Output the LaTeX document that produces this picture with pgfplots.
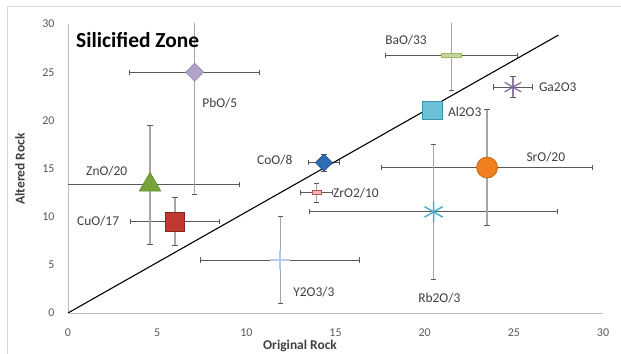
\documentclass[border=0pt]{standalone}
\usepackage{pgfplots}
\pgfplotsset{compat=1.18}
\usepackage{pgfplotstable}
\usepackage{fontspec}
\setmainfont{Carlito}

\definecolor{framegray}{HTML}{D9D9D9}
\definecolor{axisgray}{HTML}{BFBFBF}
\definecolor{ticktext}{HTML}{595959}
\definecolor{labeltext}{HTML}{404040}
\definecolor{barx}{HTML}{595959}
\definecolor{bary}{HTML}{A6A6A6}
\definecolor{pbofill}{HTML}{B3A2C7}\definecolor{pbodraw}{HTML}{9482B4}
\definecolor{znofill}{HTML}{77A33B}\definecolor{znodraw}{HTML}{5F8A2E}
\definecolor{cuofill}{HTML}{C0392F}\definecolor{cuodraw}{HTML}{8B2520}
\definecolor{coofill}{HTML}{2F6CB5}\definecolor{coodraw}{HTML}{1E4F8A}
\definecolor{zrofill}{HTML}{F2B8B8}\definecolor{zrodraw}{HTML}{C0504D}
\definecolor{yoline}{HTML}{B7CBE8}
\definecolor{rboline}{HTML}{4BACC6}
\definecolor{srofill}{HTML}{F07F1E}\definecolor{srodraw}{HTML}{C05A05}
\definecolor{alofill}{HTML}{6EC0D8}\definecolor{alodraw}{HTML}{3A93AD}
\definecolor{baofill}{HTML}{C3D69B}\definecolor{baodraw}{HTML}{9BBB59}
\definecolor{gaoline}{HTML}{8064A2}

% oxide means (original, altered) with their spreads
\pgfplotstableread{
x     y     ex    ey
7.1   25.0  3.65  12.7
4.6   13.3  5.0   6.15
6.0   9.5   2.5   2.45
14.35 15.6  0.85  0.9
13.95 12.5  0.9   1.0
11.9  5.5   4.45  4.5
20.5  10.5  6.95  7.0
23.5  15.1  5.9   6.0
21.5  26.75 3.7   3.65
24.95 23.45 1.1   1.1
}\oxides

\begin{document}
\begin{tikzpicture}
\useasboundingbox (-68bp,-41bp) rectangle (553bp,313bp);
\draw[framegray, line width=0.8bp] (-61bp,-41bp) -- (-61bp,307bp) -- (553bp,307bp);

\begin{axis}[
  scale only axis,
  width=535bp, height=289bp,
  xmin=0, xmax=30, ymin=0, ymax=30,
  axis lines*=left,
  axis line style={draw=axisgray, line width=0.9bp},
  xtick={0,5,...,30}, ytick={0,5,...,30},
  major tick length=0pt,
  tick style={draw=none},
  /pgf/number format/assume math mode=true,
  ticklabel style={font=\fontsize{12}{14}\selectfont, text=ticktext},
  xticklabel style={yshift=-12bp},
  yticklabel style={xshift=-10bp},
]
% spreads of the original rock values
\addplot[draw=none, mark=none, forget plot,
  error bars/.cd, x dir=both, x explicit,
  error bar style={draw=barx, line width=0.8bp},
  error mark options={rotate=90, draw=barx, mark size=2.6bp, line width=0.8bp}]
  table[x=x, y=y, x error=ex] {\oxides};
% spreads of the altered rock values
\addplot[draw=none, mark=none, forget plot,
  error bars/.cd, y dir=both, y explicit,
  error bar style={draw=bary, line width=1.3bp},
  error mark options={rotate=90, draw=barx, mark size=2.6bp, line width=0.8bp}]
  table[x=x, y=y, y error=ey] {\oxides};

% PbO/5
\addplot[only marks, mark=square*, mark size=6.3bp,
  mark options={rotate=45, fill=pbofill, draw=pbodraw, line width=0.6bp}] coordinates {(7.1,25.0)};
% ZnO/20
\addplot[only marks, mark=triangle*, mark size=12.5bp,
  mark options={fill=znofill, draw=znodraw, line width=0.6bp}] coordinates {(4.6,13.3)};
% CuO/17
\addplot[only marks, mark=square*, mark size=9.5bp,
  mark options={fill=cuofill, draw=cuodraw, line width=0.6bp}] coordinates {(6.0,9.5)};
% CoO/8
\addplot[only marks, mark=square*, mark size=6bp,
  mark options={rotate=45, fill=coofill, draw=coodraw, line width=0.6bp}] coordinates {(14.35,15.6)};
% ZrO2/10
\addplot[only marks, mark=square*, mark size=2.6bp,
  mark options={xscale=1.9, yscale=0.8, fill=zrofill, draw=zrodraw, line width=0.5bp}] coordinates {(13.95,12.5)};
% Y2O3/3
\addplot[only marks, mark=+, mark size=10bp,
  mark options={draw=yoline, line width=2bp}] coordinates {(11.9,5.5)};
% Rb2O/3
\addplot[only marks, mark=asterisk, mark size=10.5bp,
  mark options={draw=rboline, line width=1.4bp}] coordinates {(20.5,10.5)};
% SrO/20
\addplot[only marks, mark=*, mark size=10.5bp,
  mark options={fill=srofill, draw=srodraw, line width=0.6bp}] coordinates {(23.5,15.1)};
% Al2O3
\addplot[only marks, mark=square*, mark size=10bp,
  mark options={yscale=0.9, fill=alofill, draw=alodraw, line width=0.6bp}] coordinates {(20.4,21.0)};
% BaO/33
\addplot[only marks, mark=square*, mark size=4.5bp,
  mark options={xscale=2.2, yscale=0.5, fill=baofill, draw=baodraw, line width=0.6bp}] coordinates {(21.5,26.75)};
% Ga2O3
\addplot[only marks, mark=asterisk, mark size=9.5bp,
  mark options={draw=gaoline, line width=1.2bp}] coordinates {(24.95,23.45)};

% reference line of equal contents
\addplot[black, line width=1.1bp, mark=none] coordinates {(0,0) (27.5,28.85)};

% point labels
\begin{scope}[every node/.style={anchor=west, inner sep=0pt, text=labeltext, font=\fontsize{13.5}{15}\selectfont}]
\node at (axis cs:7.52,21.8) {PbO/5};
\node at (axis cs:1.01,14.74) {ZnO/20};
\node at (axis cs:0.5,9.55) {CuO/17};
\node at (axis cs:10.6,15.89) {CoO/8};
\node at (axis cs:14.86,12.46) {ZrO2/10};
\node at (axis cs:12.62,2.18) {Y2O3/3};
\node at (axis cs:19.63,1.56) {Rb2O/3};
\node at (axis cs:25.7,16.2) {SrO/20};
\node at (axis cs:21.3,20.87) {Al2O3};
\node at (axis cs:17.78,28.34) {BaO/33};
\node at (axis cs:26.4,23.46) {Ga2O3};
\end{scope}
\node[anchor=west, inner sep=0pt, font=\fontsize{21.5}{24}\selectfont\bfseries] at (axis cs:0.45,28.3) {Silicified Zone};
\end{axis}

\node[font=\fontsize{13.5}{15}\selectfont\bfseries, text=labeltext] at (300bp-68bp,-33bp) {Original Rock};
\node[font=\fontsize{13.5}{15}\selectfont\bfseries, text=labeltext, rotate=90] at (-48bp,144bp) {Altered Rock};
\end{tikzpicture}
\end{document}
